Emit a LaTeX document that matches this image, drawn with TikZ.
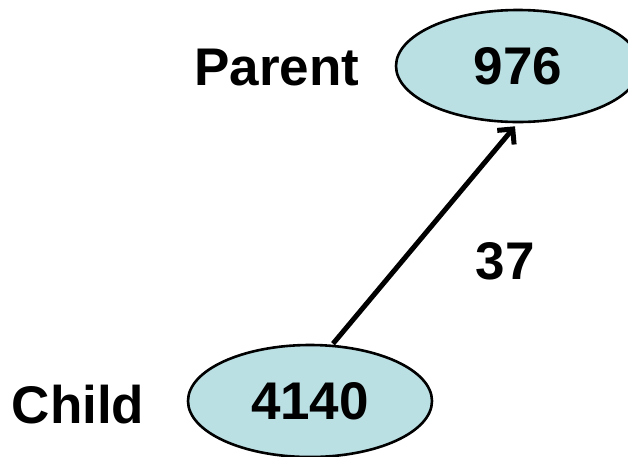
\documentclass[tikz,border=0pt]{standalone}
\usepackage{fontspec}
\setmainfont{Liberation Sans}
\usetikzlibrary{shapes.geometric,arrows.meta}
\definecolor{nodefill}{RGB}{186,224,228}
\tikzset{
  vertex/.style={ellipse, draw=black, line width=2.6pt, fill=nodefill,
    minimum width=244pt, minimum height=112pt, inner sep=0pt,
    font=\fontsize{53}{53}\selectfont\bfseries},
  tag/.style={font=\fontsize{53}{53}\selectfont\bfseries, inner sep=0pt},
  link/.style={line width=5pt, -{Straight Barb[length=11pt,width=22pt,line width=5pt]}}
}
\begin{document}
\begin{tikzpicture}[x=1pt,y=-1pt]
  \useasboundingbox (0,0) rectangle (628,456);
  \clip (0,0) rectangle (628,456);
  \node[vertex] (parent) at (518,66) {976};
  \node[vertex] (child) at (310,401) {4140};
  \node[tag] (plabel) at (277,68) {Parent};
  \node[tag] (clabel) at (78,405) {Child};
  \draw[link] ([xshift=23pt]child.north) -- ([xshift=-3pt,yshift=-3pt]parent.south)
    node[pos=0.38, right=71pt, tag] (weight) {37};
\end{tikzpicture}
\end{document}
